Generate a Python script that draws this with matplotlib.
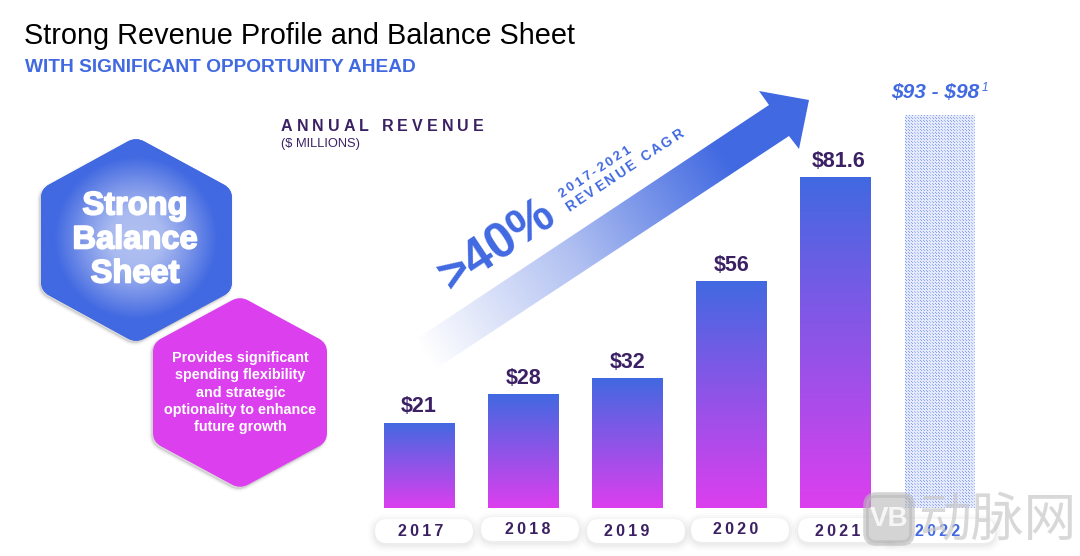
import numpy as np
import matplotlib
matplotlib.use('Agg')
import matplotlib.pyplot as plt
import matplotlib.patheffects as pe
from matplotlib.colors import LinearSegmentedColormap
from matplotlib.patches import FancyBboxPatch, PathPatch, Polygon
from matplotlib.path import Path
from matplotlib.transforms import Affine2D

plt.rcParams['font.family'] = ['Liberation Sans', 'DejaVu Sans']

years = ['2017', '2018', '2019', '2020', '2021']
revenue = [21, 28, 32, 56, 81.6]
revenue_labels = ['$21', '$28', '$32', '$56', '$81.6']
guidance_year = '2022'
guidance_top = 97
guidance_label = '$93 - $98'

BLUE = '#4169E1'
MAGENTA = '#DC3FEE'
DARK = '#3B2164'
W, H = 1080, 556

fig = plt.figure(figsize=(W / 100, H / 100), dpi=100, facecolor='white')

# background axes works in image pixels, used for all the decoration
ax = fig.add_axes([0, 0, 1, 1], zorder=0)
ax.set_xlim(0, W)
ax.set_ylim(H, 0)
ax.axis('off')


def spaced_text(x, y, s, spacing, rotation=0, **kw):
    # matplotlib has no letter spacing, so place the characters one by one
    rend = fig.canvas.get_renderer()
    a = np.radians(rotation)
    for i, ch in enumerate(s):
        probe = ax.text(0, 0, s[:i] + '|', **kw)
        mark = ax.text(0, 0, '|', **kw)
        d = probe.get_window_extent(rend).width - mark.get_window_extent(rend).width
        probe.remove()
        mark.remove()
        d += i * spacing
        ax.text(x + d * np.cos(a), y - d * np.sin(a), ch, rotation=rotation,
                rotation_mode='anchor', ha='left', va='baseline', **kw)


def rounded_path(verts, r):
    verts = np.array(verts, dtype=float)
    pts, codes = [], []
    for i in range(len(verts)):
        p = verts[i]
        a = verts[i - 1] - p
        b = verts[(i + 1) % len(verts)] - p
        pts += [p + a / np.linalg.norm(a) * r, p, p + b / np.linalg.norm(b) * r]
        codes += [Path.LINETO if i else Path.MOVETO, Path.CURVE3, Path.CURVE3]
    pts.append(pts[0])
    codes.append(Path.CLOSEPOLY)
    return Path(pts, codes)


def hexagon(verts, color, r=9):
    path = rounded_path(verts, r)
    # soft shadow, lower left
    shifted = path.transformed(Affine2D().translate(-1.5, 2))
    for grow, alpha in [(4, 0.03), (2.5, 0.05), (1, 0.08)]:
        ax.add_patch(PathPatch(shifted, fc='#555555', ec='#555555', lw=grow, alpha=alpha, zorder=2))
    patch = PathPatch(path, fc=color, ec='none', zorder=3)
    ax.add_patch(patch)
    return patch


# blue hexagon with the pale glow in the middle
blue_hex = hexagon([(136, 137), (232, 189), (232, 291), (136, 343), (41, 291), (41, 189)], BLUE)
gx, gy = np.meshgrid(np.linspace(30, 240, 211), np.linspace(130, 350, 221))
dist = np.clip(np.hypot(gx - 136, gy - 238) / 82, 0, 1)
glow = LinearSegmentedColormap.from_list('glow', ['#B3C1F1', '#A9BAF0', '#7A94E9', BLUE])
im = ax.imshow(dist, cmap=glow, extent=(30, 240, 350, 130), aspect='auto', zorder=3.5, vmin=0, vmax=1)
im.set_clip_path(blue_hex)

hexagon([(240, 296), (327, 343), (327, 442), (240, 489), (153, 442), (153, 343)], MAGENTA)

for line, y in zip(['Strong', 'Balance', 'Sheet'], [206, 240, 274]):
    ax.text(135, y, line, color='white', fontsize=23.5, fontweight='bold', ha='center', va='center',
            zorder=5, path_effects=[pe.withStroke(linewidth=1.2, foreground='white')])

hex_lines = ['Provides significant', 'spending flexibility', 'and strategic',
             'optionality to enhance', 'future growth']
for line, y in zip(hex_lines, [358, 375.5, 393, 410, 427]):
    ax.text(240.5, y, line, color='white', fontsize=10.4, fontweight='bold', ha='center', va='center', zorder=5)

# growth arrow, fades out towards the tail
arrow_pts = [(415, 340), (769, 105), (759, 91), (809, 100), (799, 149), (789, 136), (437, 368)]
arrow = Polygon(arrow_pts, closed=True, fc='none', ec='none', zorder=3)
ax.add_patch(arrow)
ux, uy = 0.83, -0.555
ax_x, ax_y = np.meshgrid(np.linspace(400, 820, 421), np.linspace(80, 380, 301))
t = ((ax_x - 425) * ux + (ax_y - 354) * uy) / 360
arrow_cmap = LinearSegmentedColormap.from_list('arrow', ['#FFFFFF', '#AFBFF1', BLUE])
im = ax.imshow(np.clip(t, 0, 1), cmap=arrow_cmap, extent=(400, 820, 380, 80), aspect='auto',
               zorder=3, vmin=0, vmax=1)
im.set_clip_path(arrow)

# bars go in their own axes: x is the year index, y is $ millions
ax_bars = fig.add_axes([0, 0, 1, 1], zorder=1)
ax_bars.patch.set_alpha(0)
ax_bars.axis('off')
x_step = 104.2
y_step = 331 / 81.6
xlim = (-419 / x_step, (W - 419) / x_step)
ylim = (-(H - 508) / y_step, 508 / y_step)
bar_cmap = LinearSegmentedColormap.from_list('bar', [BLUE, MAGENTA])
bar_w = 71 / x_step

x_pos = np.arange(len(years))
bars = ax_bars.bar(x_pos, revenue, width=bar_w, color='none', edgecolor='none')
for b in bars:
    grad = np.linspace(0, 1, 256).reshape(-1, 1)
    im = ax_bars.imshow(grad, cmap=bar_cmap, aspect='auto', zorder=2,
                        extent=(b.get_x(), b.get_x() + b.get_width(), 0, b.get_height()), origin='upper')
    im.set_clip_path(b)
label_dx = [0, 0, 0, 0, 0.03]
for x, v, lab, dx in zip(x_pos, revenue, revenue_labels, label_dx):
    ax_bars.text(x + dx, v + 3.9, lab, color=DARK, fontsize=15.5, fontweight='bold', ha='center', va='center',
                 zorder=4, parse_math=False)

# 2022 guidance bar, dotted
g_bar = ax_bars.bar([len(years)], [guidance_top], width=bar_w - 0.01, color='#DCE4FB', edgecolor='none', zorder=1)[0]
tw, th = 70, 394
yy, xx = np.mgrid[0:th, 0:tw]
tex = (((xx % 3 == 0) & (yy % 3 == 0)) | ((xx % 3 == 1) & (yy % 3 == 1))).astype(float)
tex = tex * (0.7 + 0.3 * (xx % 14 < 9))
dots = LinearSegmentedColormap.from_list('dots', ['#E4EAFC', '#8AA3F2'])
im = ax_bars.imshow(tex, cmap=dots, aspect='auto', interpolation='nearest', zorder=2,
                    extent=(g_bar.get_x(), g_bar.get_x() + g_bar.get_width(), 0, guidance_top), vmin=0, vmax=1)
im.set_clip_path(g_bar)

ax_bars.set_xlim(*xlim)
ax_bars.set_ylim(*ylim)

ax.text(891, 92, guidance_label, color=BLUE, fontsize=15, fontweight='bold', fontstyle='italic',
        ha='left', va='center', zorder=5, parse_math=False)
ax.text(982, 88, '1', color=BLUE, fontsize=8.5, fontstyle='italic', ha='left', va='center', zorder=5)

# year pills
pill_boxes = [(375, 519), (481, 517), (587, 519), (691, 518), (798, 518), (886, 519)]
pill_text = [(421, 532), (528, 530), (627, 531), (736, 530), (838, 531), (938, 532)]
pill_years = years + [guidance_year]
for i, ((px, py), (tx, ty)) in enumerate(zip(pill_boxes, pill_text)):
    pw = 109 if i == 5 else 98
    for grow, alpha in [(7, 0.012), (5, 0.016), (3, 0.02), (1.5, 0.025)]:
        ax.add_patch(FancyBboxPatch((px - grow, py + 2 - grow), pw + 2 * grow, 24 + 2 * grow,
                                    boxstyle='round,pad=0,rounding_size=%g' % (12 + grow), fc='black', ec='none',
                                    alpha=alpha, zorder=6))
    ax.add_patch(FancyBboxPatch((px, py), pw, 24, boxstyle='round,pad=0,rounding_size=12',
                                fc='white', ec='none', zorder=7))
    color = BLUE if pill_years[i] == guidance_year else DARK
    ax.text(tx, ty, '\u2009'.join(pill_years[i]), color=color, fontsize=11.5, fontweight='bold',
            ha='center', va='center', zorder=8)

# titles
ax.text(24, 36, 'Strong Revenue Profile and Balance Sheet', color='black', fontsize=20.8, ha='left', va='center')
ax.text(25, 67.5, 'WITH SIGNIFICANT OPPORTUNITY AHEAD', color=BLUE, fontsize=13.8, fontweight='bold', ha='left', va='center')
spaced_text(281, 131, 'ANNUAL REVENUE', 4.1, color=DARK, fontsize=11.5, fontweight='bold')
ax.text(281, 144, '($ MILLIONS)', color=DARK, fontsize=9.3, ha='left', va='center', parse_math=False)

# arrow captions
ax.text(451, 292, '>40%', color=BLUE, fontsize=36, fontweight='bold', rotation=33.5, rotation_mode='anchor',
        ha='left', va='baseline', zorder=5)
spaced_text(561, 198, '2017-2021', 2.6, rotation=33.5, color=BLUE, fontsize=9.5, fontweight='bold', zorder=5)
spaced_text(569, 212, 'REVENUE CAGR', 2.4, rotation=33.5, color=BLUE, fontsize=10, fontweight='bold', zorder=5)

# watermark
ax_wm = fig.add_axes([0, 0, 1, 1], zorder=3)
ax_wm.set_xlim(0, W)
ax_wm.set_ylim(H, 0)
ax_wm.axis('off')
ax_wm.add_patch(FancyBboxPatch((866, 495), 46, 48, boxstyle='round,pad=0,rounding_size=10', fc='#B8B8B8', ec='#B8B8B8',
                               lw=4, alpha=0.6))
ax_wm.text(889, 519, 'VB', color='white', fontsize=20, fontweight='bold', ha='center', va='center', alpha=0.8)
ax_wm.text(997, 521, '动脉网', color='#C8C8C8', fontsize=38, ha='center', va='center', alpha=0.7,
           family=['Noto Sans CJK SC', 'DejaVu Sans'])

fig.savefig('out.png', dpi=100)
